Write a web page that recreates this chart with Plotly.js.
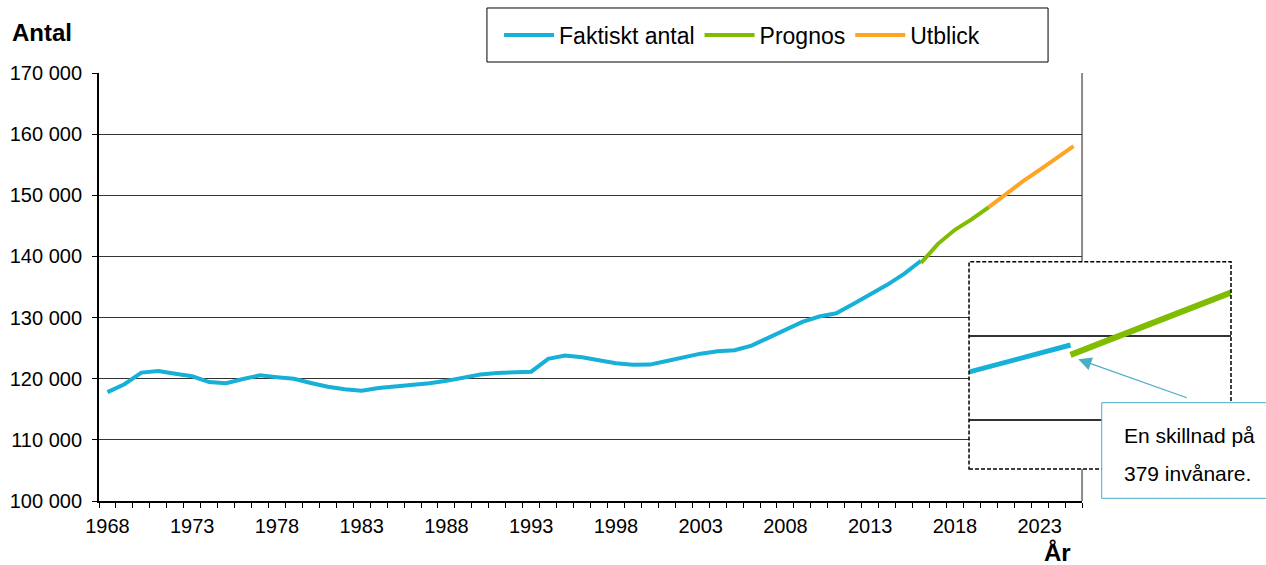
<!DOCTYPE html>
<html>
<head>
<meta charset="utf-8">
<script src="https://cdn.plot.ly/plotly-3.0.1.min.js"></script>
<style>
html, body { margin: 0; padding: 0; background: #fff; }
#chart { width: 1266px; height: 565px; }
</style>
</head>
<body>
<div id="chart"></div>
<script>
const actualYears = [1968, 1969, 1970, 1971, 1972, 1973, 1974, 1975, 1976, 1977,
    1978, 1979, 1980, 1981, 1982, 1983, 1984, 1985, 1986, 1987,
    1988, 1989, 1990, 1991, 1992, 1993, 1994, 1995, 1996, 1997,
    1998, 1999, 2000, 2001, 2002, 2003, 2004, 2005, 2006, 2007,
    2008, 2009, 2010, 2011, 2012, 2013, 2014, 2015, 2016];
const actualValues = [117800, 119100, 121000, 121250, 120800, 120400, 119450, 119250, 119950, 120550,
    120250, 120000, 119300, 118700, 118280, 118050, 118480, 118700, 118950, 119250,
    119650, 120100, 120700, 120950, 121000, 121150, 123250, 123780, 123520, 122960,
    122540, 122300, 122310, 122900, 123500, 124100, 124500, 124650, 125420, 126730,
    127990, 129300, 130170, 130700, 132240, 133830, 135350, 137150, 139300];

const prognosYears  = [2016, 2017, 2018, 2019, 2020];
const prognosValues = [138921, 142060, 144350, 146100, 148070];

const outlookYears  = [2020, 2021, 2022, 2023, 2024, 2025];
const outlookValues = [148070, 150200, 152260, 154170, 156090, 158050];

const xTickYears  = [1968, 1973, 1978, 1983, 1988, 1993, 1998, 2003, 2008, 2013, 2018, 2023];
const yTickValues = [100000, 110000, 120000, 130000, 140000, 150000, 160000, 170000];
const yTickLabels = ["100 000", "110 000", "120 000", "130 000", "140 000", "150 000", "160 000", "170 000"];

const seriesNames = ["Faktiskt antal", "Prognos", "Utblick"];
const calloutLines = ["En skillnad på", "379 invånare."];

const FONT = "Liberation Sans, Arial, sans-serif";
const BLUE = "#17b0d8";
const GREEN = "#80bc00";
const ORANGE = "#ffa523";
const CALLOUT = "#4bacc6";

// main chart
const actualTrace = {
    x: actualYears, y: actualValues, name: seriesNames[0],
    type: "scatter", mode: "lines",
    line: {color: BLUE, width: 4}
};
const prognosTrace = {
    x: prognosYears, y: prognosValues, name: seriesNames[1],
    type: "scatter", mode: "lines",
    line: {color: GREEN, width: 4}
};
const outlookTrace = {
    x: outlookYears, y: outlookValues, name: seriesNames[2],
    type: "scatter", mode: "lines",
    line: {color: ORANGE, width: 4}
};

// magnified view of the 2016 join
const insetActual = {
    x: actualYears, y: actualValues, xaxis: "x2", yaxis: "y2",
    type: "scatter", mode: "lines", showlegend: false, hoverinfo: "skip",
    line: {color: BLUE, width: 5}
};
const insetPrognos = {
    x: prognosYears, y: prognosValues, xaxis: "x2", yaxis: "y2",
    type: "scatter", mode: "lines", showlegend: false, hoverinfo: "skip",
    line: {color: GREEN, width: 6}
};

const layout = {
    width: 1266,
    height: 565,
    margin: {l: 99, r: 30, t: 73, b: 64},
    paper_bgcolor: "#fff",
    plot_bgcolor: "#fff",
    font: {family: FONT, size: 20, color: "#000"},
    showlegend: true,
    legend: {
        orientation: "h",
        xref: "container", yref: "container",
        x: 0.3942, y: 0.938, xanchor: "left", yanchor: "middle",
        borderwidth: 0, bgcolor: "rgba(0,0,0,0)",
        itemwidth: 50,
        font: {size: 23}
    },
    xaxis: {
        domain: [0, 0.8646],
        range: [1967.5, 2025.5],
        tickmode: "array",
        tickvals: xTickYears,
        ticktext: xTickYears.map(String),
        ticks: "outside", ticklen: 6, tickcolor: "rgba(0,0,0,0)",
        minor: {tickmode: "linear", tick0: 1967.5, dtick: 1, ticks: "outside", ticklen: 5, tickcolor: "#000", tickwidth: 1, showgrid: false},
        showgrid: false, zeroline: false,
        showline: true, linecolor: "#000", linewidth: 2,
        tickfont: {size: 20}
    },
    yaxis: {
        domain: [0, 1],
        range: [100000, 170000],
        tickmode: "array",
        tickvals: yTickValues,
        ticktext: yTickLabels,
        ticks: "outside", ticklen: 5, tickcolor: "#000",
        ticklabelstandoff: 6,
        showgrid: true, gridcolor: "#333", gridwidth: 1,
        zeroline: false,
        showline: true, linecolor: "#000", linewidth: 2,
        tickfont: {size: 20}
    },
    xaxis2: {
        domain: [0.7652, 0.9956], anchor: "y2",
        range: [2015.5167, 2016.7643],
        showticklabels: false, ticks: "", showgrid: false, zeroline: false, showline: false
    },
    yaxis2: {
        domain: [0.0748, 0.5591], anchor: "x2",
        range: [134531, 142504],
        tickmode: "array", tickvals: [136415, 139658],
        showticklabels: false, ticks: "", showgrid: true, gridcolor: "#333", gridwidth: 2,
        zeroline: false, showline: false
    },
    shapes: [
        // right frame of the main plot
        {type: "line", xref: "x domain", yref: "y domain", x0: 1, x1: 1, y0: 0, y1: 1,
         line: {color: "#8c8c8c", width: 2}, layer: "below"},
        // legend frame
        {type: "rect", xref: "paper", yref: "paper", x0: 0.3412, x1: 0.8347, y0: 1.0257, y1: 1.1519,
         line: {color: "#000", width: 1}, fillcolor: "#fff", layer: "above"},
        // dashed frame around the magnifier
        {type: "rect", xref: "x2 domain", yref: "y2 domain", x0: 0, x1: 1, y0: 0, y1: 1,
         line: {color: "#000", width: 1.5, dash: "4px,2px"}, layer: "above"},
        // callout box
        {type: "rect", xref: "paper", yref: "paper", x0: 0.8819, x1: 1.04, y0: 0.0063, y1: 0.2297,
         line: {color: CALLOUT, width: 1}, fillcolor: "#fff", layer: "above"}
    ],
    annotations: [
        {text: "<b>Antal</b>", xref: "paper", yref: "paper", x: -0.0783, y: 1.0935,
         xanchor: "left", yanchor: "middle", showarrow: false, font: {size: 24}},
        {text: "<b>År</b>", xref: "paper", yref: "paper", x: 0.8426, y: -0.12,
         xanchor: "center", yanchor: "middle", showarrow: false, font: {size: 24}},
        {text: calloutLines[0], xref: "paper", yref: "paper", x: 0.8995, y: 0.1519,
         xanchor: "left", yanchor: "middle", showarrow: false, font: {size: 21}},
        {text: calloutLines[1], xref: "paper", yref: "paper", x: 0.8995, y: 0.0654,
         xanchor: "left", yanchor: "middle", showarrow: false, font: {size: 21}},
        {text: " ", xref: "paper", yref: "paper", x: 0.8613, y: 0.3311,
         showarrow: true, ax: 113, ay: 40, axref: "pixel", ayref: "pixel",
         arrowhead: 2, arrowsize: 2.2, arrowwidth: 1.2, arrowcolor: CALLOUT, standoff: 0}
    ]
};

Plotly.newPlot("chart",
    [actualTrace, prognosTrace, outlookTrace, insetActual, insetPrognos],
    layout, {displayModeBar: false, staticPlot: true});
</script>
</body>
</html>
